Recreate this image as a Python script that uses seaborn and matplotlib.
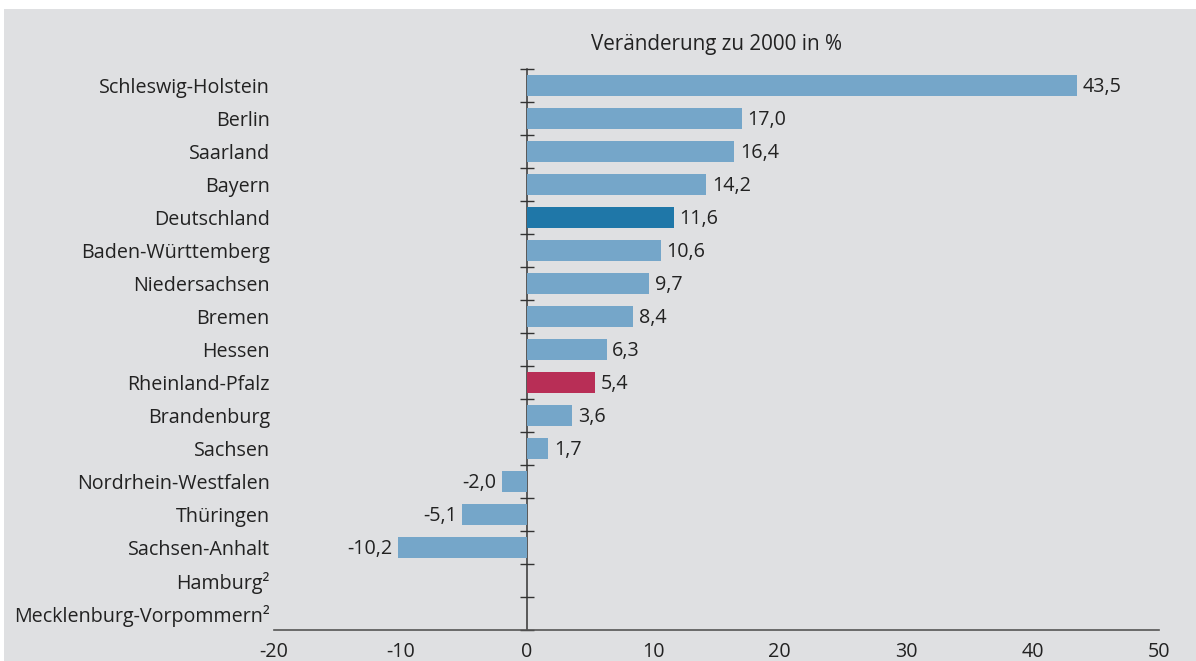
import matplotlib
matplotlib.use("Agg")
import matplotlib.pyplot as plt
import matplotlib.patches as mpatches
import seaborn as sns
import numpy as np
import pandas as pd

categories = ["Schleswig-Holstein", "Berlin", "Saarland", "Bayern", "Deutschland",
              "Baden-Württemberg", "Niedersachsen", "Bremen", "Hessen",
              "Rheinland-Pfalz", "Brandenburg", "Sachsen", "Nordrhein-Westfalen",
              "Thüringen", "Sachsen-Anhalt", "Hamburg²", "Mecklenburg-Vorpommern²"]
values = [43.5, 17.0, 16.4, 14.2, 11.6, 10.6, 9.7, 8.4, 6.3, 5.4, 3.6, 1.7,
          -2.0, -5.1, -10.2, np.nan, np.nan]
highlight = {"Deutschland": "#1f77a8", "Rheinland-Pfalz": "#b82e56"}
base_color = "#75a6c9"
x_ticks = [-20, -10, 0, 10, 20, 30, 40, 50]
title = "Veränderung zu 2000 in %"

sns.set_theme(style="white")
plt.rcParams["font.family"] = ["Open Sans", "DejaVu Sans"]
text_color = "#222222"
bg = "#dfe0e2"
fs = 14.2

df = pd.DataFrame({"cat": categories, "val": values})
palette = {c: highlight.get(c, base_color) for c in categories}

fig = plt.figure(figsize=(11.96, 6.61), dpi=100)
fig.patch.set_facecolor("white")
fig.patches.append(mpatches.Rectangle((4 / 1196, 0), 1 - 4 / 1196, 1 - 9 / 661,
                                      transform=fig.transFigure, facecolor=bg,
                                      edgecolor="none", zorder=-10))
ax = fig.add_axes([274 / 1196, 1 - 630 / 661, (1159 - 274) / 1196, (630 - 69) / 661])
ax.set_facecolor("none")

sns.barplot(data=df, x="val", y="cat", hue="cat", palette=palette, legend=False,
            width=0.62, ax=ax, saturation=1, linewidth=0, edgecolor="none")

ax.set_xlim(-20, 50)
ax.set_ylim(len(categories) - 0.5, -0.5)
ax.set_xticks(x_ticks)
ax.set_xticklabels([str(t) for t in x_ticks])
ax.set_xlabel("")
ax.set_ylabel("")
for s in ["top", "right", "left"]:
    ax.spines[s].set_visible(False)
ax.spines["bottom"].set_color("#555555")
ax.spines["bottom"].set_linewidth(1.2)
ax.tick_params(axis="x", direction="out", length=4.5, width=1.2, color="#555555",
               labelsize=fs, labelcolor=text_color, pad=4)
ax.tick_params(axis="y", length=0, labelsize=fs, labelcolor=text_color, pad=3)
ax.set_title(title, fontsize=fs + 0.7, color=text_color, pad=14)

# vertical zero axis with boundary ticks
sec = ax.secondary_yaxis(20 / 70)
sec.set_yticks(np.arange(-0.5, len(categories), 1.0))
sec.set_yticklabels([])
sec.tick_params(direction="inout", length=10, width=1, color="#333333")
sec.spines["left"].set_color("#333333")
sec.spines["left"].set_linewidth(1.1)

for i, v in enumerate(values):
    if np.isnan(v):
        continue
    lab = f"{v:.1f}".replace(".", ",")
    if v >= 0:
        ax.annotate(lab, (v, i), xytext=(4, -1.2), textcoords="offset points",
                    ha="left", va="center", fontsize=fs, color=text_color)
    else:
        ax.annotate(lab, (v, i), xytext=(-4, -1.2), textcoords="offset points",
                    ha="right", va="center", fontsize=fs, color=text_color)

fig.savefig("out.png", dpi=100, facecolor=fig.get_facecolor())
